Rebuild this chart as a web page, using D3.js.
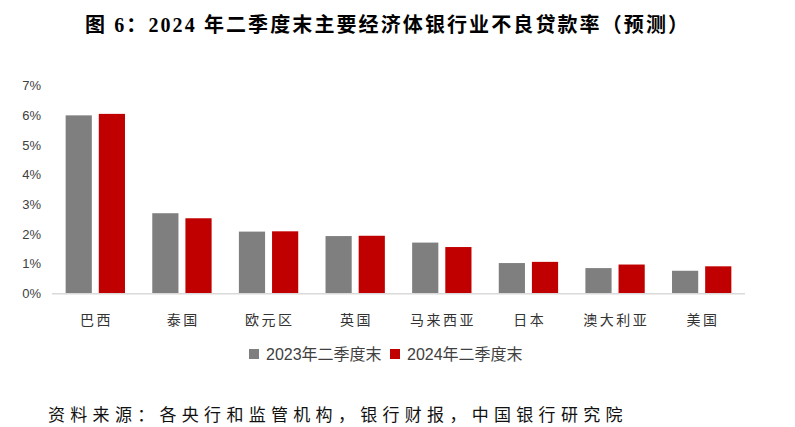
<!DOCTYPE html>
<html><head><meta charset="utf-8">
<script src="https://cdn.jsdelivr.net/npm/d3@7"></script>
<style>body{margin:0;background:#fff}svg{display:block}</style>
</head><body>
<script>
const categories = ["巴西","泰国","欧元区","英国","马来西亚","日本","澳大利亚","美国"];
const seriesNames = ["2023年二季度末","2024年二季度末"];
const values2023 = [6.00, 2.70, 2.08, 1.93, 1.71, 1.02, 0.85, 0.76];
const values2024 = [6.05, 2.53, 2.09, 1.94, 1.56, 1.06, 0.97, 0.91];
const yTicks = [0,1,2,3,4,5,6,7];
const colors = ["#7f7f7f","#c00000"];
const titleText = "图 6：2024 年二季度末主要经济体银行业不良贷款率（预测）";
const sourceText = "资料来源：各央行和监管机构，银行财报，中国银行研究院";

const W=795,H=427;
const svg=d3.select("body").append("svg").attr("width",W).attr("height",H);
const cjk='"Noto Sans CJK SC","Noto Sans CJK JP",sans-serif';

svg.append("text").attr("x",85).attr("y",32)
  .attr("font-family",'"Liberation Serif","Noto Sans CJK SC",serif')
  .attr("font-weight","bold").attr("font-size",20).attr("letter-spacing",2.1)
  .attr("fill","#000").text(titleText);

const x0=d3.scaleBand().domain(categories).range([52,745]).paddingInner(0.315).paddingOuter(0.1575);
const x1=d3.scaleBand().domain(seriesNames).range([0,x0.bandwidth()]).paddingInner(0.21);
const y=d3.scaleLinear().domain([0,7]).range([293.3,85.7]);

// y labels
const ya=svg.append("g").attr("transform","translate(41,0)")
  .call(d3.axisLeft(y).tickValues(yTicks).tickSize(0).tickPadding(0).tickFormat(d=>d+"%"));
ya.select(".domain").remove();
ya.selectAll("text").attr("font-family",'"Liberation Sans",Arial,sans-serif').attr("font-size",13).attr("fill","#404040");

const data=categories.map((c,i)=>({c,vals:[values2023[i],values2024[i]]}));
const g=svg.append("g").selectAll("g").data(data).join("g").attr("transform",d=>`translate(${x0(d.c)},0)`);
g.selectAll("rect").data(d=>d.vals.map((v,j)=>({v,s:seriesNames[j],j}))).join("rect")
  .attr("x",d=>x1(d.s)).attr("width",x1.bandwidth())
  .attr("y",d=>y(d.v)).attr("height",d=>y(0)-y(d.v))
  .attr("fill",d=>colors[d.j]);

// baseline
const xa=svg.append("g").attr("transform",`translate(0,${y(0)})`)
  .call(d3.axisBottom(x0).tickSize(0).tickPadding(22));
xa.select(".domain").attr("stroke","#d9d9d9").attr("stroke-width",1.5).attr("d","M52,0.5H745");
xa.selectAll("text").attr("font-family",cjk).attr("font-size",14).attr("letter-spacing",2.5)
  .attr("dx",1.25).attr("fill","#333");

// legend
const leg=svg.append("g");
const legX=[249,390], legTX=[266,407];
seriesNames.forEach((s,i)=>{
  leg.append("rect").attr("x",legX[i]).attr("y",349).attr("width",10).attr("height",10).attr("fill",colors[i]);
  leg.append("text").attr("x",legTX[i]).attr("y",354).attr("dy","0.35em")
    .attr("font-family",'"Liberation Sans","Noto Sans CJK SC",sans-serif').attr("font-size",16)
    .attr("fill","#404040").text(s);
});

svg.append("text").attr("x",48).attr("y",421)
  .attr("font-family",cjk).attr("font-size",17).attr("letter-spacing",5.3)
  .attr("fill","#111").text(sourceText);
</script>
</body></html>
